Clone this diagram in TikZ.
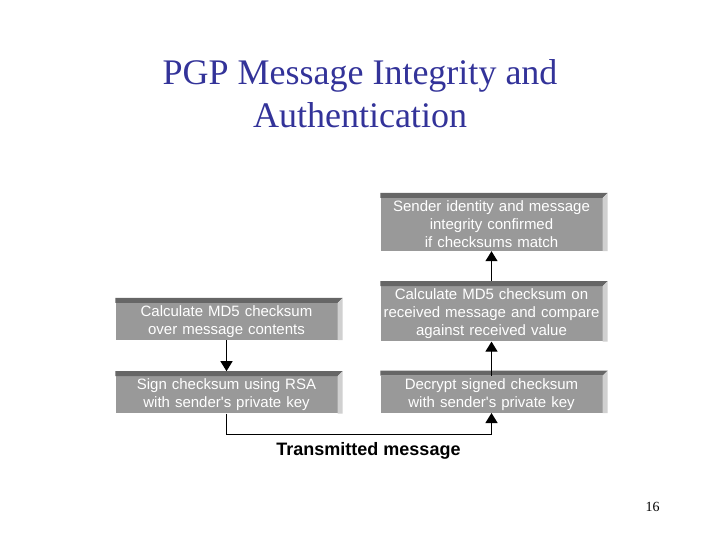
\documentclass[tikz,border=0pt]{standalone}
\usepackage{fontspec}
\setmainfont{Liberation Serif}
\newfontfamily\arialfont{Liberation Sans}
\usetikzlibrary{arrows.meta,positioning,calc}
\definecolor{titleblue}{RGB}{51,51,153}
\definecolor{facegray}{RGB}{153,153,153}
\definecolor{topgray}{RGB}{102,102,102}
\definecolor{sidegray}{RGB}{208,208,208}

\begin{document}
\begin{tikzpicture}[x=1bp, y=-1bp,
    box/.style={fill=facegray, text=white, inner sep=1bp, minimum width=222bp, minimum height=#1, text width=218bp, align=center, font=\arialfont\fontsize{15bp}{18bp}\selectfont},
    box/.default=37bp,
    arr/.style={-{Triangle[length=10bp,width=12bp]}, line width=1.2bp}
]
\useasboundingbox (0,0) rectangle (720,540);

% title
\node[anchor=north, inner sep=0pt, align=center, text=titleblue, font=\fontsize{36bp}{43bp}\selectfont] (title) at (360,59.5) {PGP Message Integrity and\\Authentication};

% receiver side
\node[box=53bp] (confirm) at (491.5,224.5) {Sender identity and message\\integrity confirmed\\if checksums match};
\node[box=55bp, below=35bp of confirm] (compare) {Calculate MD5 checksum on\\received message and compare\\against received value};
\node[box, below=34bp of compare] (decrypt) {Decrypt signed checksum\\with sender's private key};

% sender side
\node[box] (digest) at (226.5,321.5) {Calculate MD5 checksum\\over message contents};
\node[box, below=36bp of digest] (sign) {Sign checksum using RSA\\with sender's private key};

% bevel edges
\foreach \n in {confirm,compare,decrypt,digest,sign} {
  \fill[topgray] (\n.north west) -- ++(0,5bp) -- ($(\n.north east)+(5bp,5bp)$) -- (\n.north east) -- cycle;
  \fill[sidegray] (\n.north east) -- ++(5bp,5bp) -- ($(\n.south east)+(5bp,0)$) -- (\n.south east) -- cycle;
}

\node[font=\arialfont\bfseries\fontsize{18bp}{20bp}\selectfont] (txmsg) at (368.5,451) {Transmitted message};

\draw[arr, shorten >=5bp] (digest) -- (sign);
\draw[arr] (decrypt) -- (compare);
\draw[arr, shorten <=5bp] (compare) -- (confirm);
\draw[arr] (sign.south) -- ++(0,21) -| (decrypt.south);

\node[anchor=base, inner sep=0pt, font=\fontsize{14bp}{16bp}\selectfont] (pageno) at (652.5,511) {16};
\end{tikzpicture}
\end{document}
